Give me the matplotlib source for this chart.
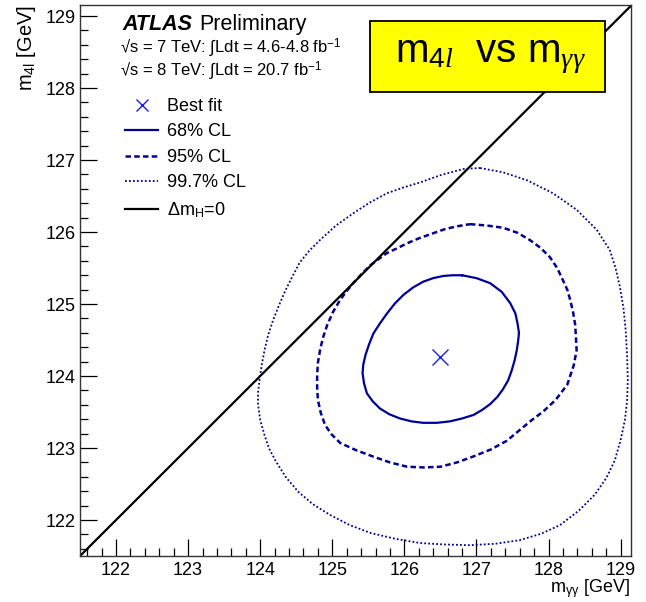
import matplotlib
matplotlib.use('Agg')
import matplotlib.pyplot as plt
from matplotlib.patches import Rectangle
from matplotlib.ticker import MultipleLocator

plt.rcParams['font.family'] = ['Liberation Sans', 'DejaVu Sans']
plt.rcParams['mathtext.fontset'] = 'custom'
plt.rcParams['mathtext.rm'] = 'Liberation Sans'
plt.rcParams['mathtext.it'] = 'Liberation Serif:italic'
plt.rcParams['mathtext.bf'] = 'Liberation Sans:bold'

# best fit point
best_x = 126.50
best_y = 124.26

# 68% CL contour (m_gg, m_4l)
cl68_x = [126.80, 127.00, 127.19, 127.35, 127.47, 127.54, 127.57, 127.59, 127.58, 127.56,
          127.53, 127.49, 127.44, 127.37, 127.29, 127.19, 127.08, 126.96, 126.80, 126.63,
          126.45, 126.26, 126.10, 125.94, 125.79, 125.66, 125.56, 125.48, 125.44, 125.42,
          125.43, 125.46, 125.51, 125.57, 125.66, 125.76, 125.87, 125.99, 126.12, 126.26,
          126.40, 126.54, 126.67]
cl68_y = [125.40, 125.36, 125.29, 125.17, 125.01, 124.87, 124.73, 124.60, 124.50, 124.36,
          124.22, 124.08, 123.94, 123.82, 123.71, 123.61, 123.53, 123.46, 123.41, 123.37,
          123.35, 123.35, 123.37, 123.41, 123.47, 123.55, 123.65, 123.76, 123.90, 124.04,
          124.16, 124.29, 124.44, 124.59, 124.73, 124.87, 125.01, 125.13, 125.23, 125.31,
          125.36, 125.39, 125.40]

# 95% CL contour
cl95_x = [126.91, 127.15, 127.37, 127.57, 127.74, 127.89, 128.02, 128.12, 128.20, 128.26,
          128.30, 128.34, 128.37, 128.38, 128.39, 128.35, 128.26, 128.10, 127.93, 127.77,
          127.60, 127.42, 127.20, 126.95, 126.73, 126.50, 126.27,
          126.04, 125.80, 125.57, 125.33, 125.11, 124.99, 124.90, 124.84, 124.80, 124.79,
          124.79, 124.80, 124.83, 124.87, 124.93, 125.01, 125.11, 125.20, 125.29, 125.41,
          125.53, 125.65, 125.76, 125.89, 126.01, 126.12, 126.22, 126.39, 126.56, 126.73]
cl95_y = [126.11, 126.09, 126.06, 125.99, 125.89, 125.78, 125.65, 125.50, 125.33, 125.20,
          125.06, 124.89, 124.71, 124.54, 124.36, 124.15, 123.88, 123.67, 123.51, 123.39,
          123.25, 123.10, 122.98, 122.88, 122.80, 122.74, 122.73,
          122.74, 122.80, 122.88, 122.97, 123.07, 123.19, 123.32, 123.49, 123.67, 123.84,
          124.01, 124.18, 124.36, 124.53, 124.71, 124.89, 125.06, 125.18, 125.29, 125.42,
          125.54, 125.63, 125.71, 125.77, 125.83, 125.88, 125.92, 125.98, 126.04, 126.08]

# 99.7% CL contour
cl997_x = [127.05, 127.37, 127.70, 128.06, 128.39, 128.67, 128.85, 128.93, 128.99, 129.04,
           129.07, 129.09, 129.10, 129.09, 129.06, 129.00, 128.92, 128.80, 128.64, 128.42,
           128.16, 127.90, 127.60, 127.26, 126.91, 126.56, 126.22, 125.87, 125.53, 125.24,
           124.97, 124.73, 124.53, 124.36, 124.22, 124.12, 124.06, 124.00, 123.97, 123.97,
           123.99, 124.02, 124.06, 124.11, 124.18, 124.26, 124.35, 124.45, 124.55, 124.68,
           124.83, 125.05, 125.29, 125.52, 125.76, 125.99, 126.22, 126.50, 126.81]
cl997_y = [126.89, 126.83, 126.72, 126.54, 126.31, 126.03, 125.75, 125.50, 125.24, 124.94,
           124.64, 124.29, 123.94, 123.66, 123.39, 123.11, 122.83, 122.58, 122.35, 122.13,
           121.93, 121.81, 121.72, 121.67, 121.65, 121.66, 121.68, 121.74, 121.82, 121.93,
           122.07, 122.22, 122.39, 122.59, 122.81, 123.00, 123.18, 123.39, 123.60, 123.77,
           123.94, 124.15, 124.36, 124.57, 124.78, 124.98, 125.19, 125.39, 125.58, 125.74,
           125.89, 126.09, 126.26, 126.41, 126.54, 126.62, 126.69, 126.79, 126.875]

x_ticks = [122, 123, 124, 125, 126, 127, 128, 129]
y_ticks = [122, 123, 124, 125, 126, 127, 128, 129]
lim = (121.5, 129.14)

navy = '#00009a'

fig = plt.figure(figsize=(6.46, 6.02), dpi=100)
ax = fig.add_axes([80 / 646, 46 / 602, 550.7 / 646, 550.7 / 602])


def closed(v):
    return list(v) + [v[0]]


ax.plot(best_x, best_y, 'x', color='#1a1aff', markersize=11, markeredgewidth=1.0,
        label='Best fit')
ax.plot(closed(cl68_x), closed(cl68_y), '-', color=navy, lw=1.6, label='68% CL')
ax.plot(closed(cl95_x), closed(cl95_y), color=navy, lw=1.8, ls=(0, (2.2, 1.3)),
        label='95% CL')
ax.plot(closed(cl997_x), closed(cl997_y), color=navy, lw=1.3, ls=(0, (1, 1.2)),
        label='99.7% CL')
ax.axline((125, 125), slope=1, color='black', lw=1.6, label='Δm$_{\\mathrm{H}}$=0')

ax.set_xlim(*lim)
ax.set_ylim(lim[0], 129.15)
ax.set_xticks(x_ticks)
ax.set_yticks(y_ticks)
ax.xaxis.set_minor_locator(MultipleLocator(0.2))
ax.yaxis.set_minor_locator(MultipleLocator(0.2))
ax.tick_params(which='both', direction='in', top=False, right=False, labelsize=13,
               width=0.9)
ax.tick_params(which='major', length=12)
ax.tick_params(which='minor', length=6)
ax.tick_params(axis='x', pad=4)
ax.tick_params(axis='y', pad=3)
for s in ax.spines.values():
    s.set_linewidth(1.0)
    s.set_color('#333333')

fig.text(630 / 646, 1 - 592 / 602, 'm$_{\\mathrm{γγ}}$ [GeV]', ha='right',
         va='baseline', fontsize=13)
fig.text(27 / 646, 1 - 5 / 602, 'm$_{\\mathrm{4l}}$ [GeV]', rotation=90, ha='center',
         va='top', fontsize=14.5)

fig.text(122 / 646, 1 - 30 / 602, 'ATLAS', fontsize=15.5, fontweight='bold',
         fontstyle='italic', va='baseline')
fig.text(199 / 646, 1 - 30 / 602, 'Preliminary', fontsize=15.5, va='baseline')
fig.text(120 / 646, 1 - 53 / 602, '√s = 7 TeV: ∫Ldt = 4.6-4.8 fb$^{-1}$', fontsize=12,
         va='baseline')
fig.text(120 / 646, 1 - 76 / 602, '√s = 8 TeV: ∫Ldt = 20.7 fb$^{-1}$', fontsize=12,
         va='baseline')

fig.patches.append(Rectangle((370 / 646, 1 - 92 / 602), 235 / 646, 71 / 602,
                             transform=fig.transFigure, facecolor='#ffff00',
                             edgecolor='black', linewidth=1.3, zorder=2))
fig.text(490 / 646, 1 - 57 / 602, 'm$_{\\mathit{4l}}$  vs m$_{\\mathit{γγ}}$',
         fontsize=29, ha='center', va='center', zorder=3)

ax.legend(loc='upper left', bbox_to_anchor=(125 / 646, 1 - 98 / 602),
          bbox_transform=fig.transFigure, frameon=False, fontsize=13, borderpad=0,
          borderaxespad=0, labelspacing=0.47, handlelength=1.85, handletextpad=0.5,
          markerscale=0.8)

fig.savefig('out.png', dpi=100)
